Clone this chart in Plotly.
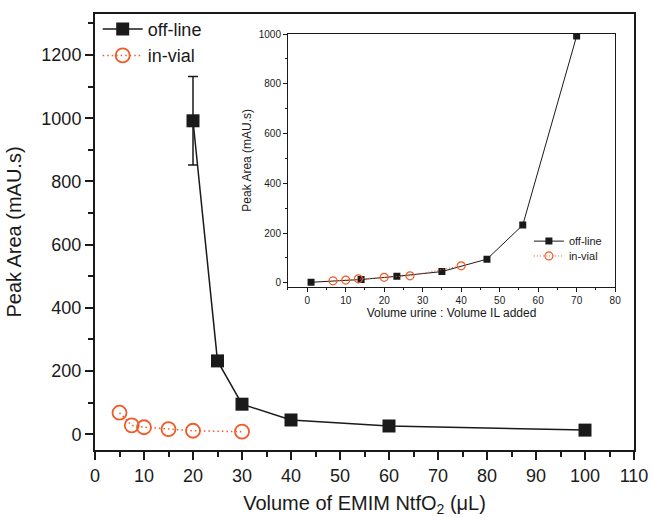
import plotly.graph_objects as go

# main chart data
off_x = [20, 25, 30, 40, 60, 100]
off_y = [992, 232, 95, 45, 26, 13]
off_err = [140, 15, 10, 6, 5, 15]
vial_x = [5, 7.5, 10, 15, 20, 30]
vial_y = [68, 28, 22, 16, 11, 8]

# inset data
in_off_x = [1, 14, 23.3, 35, 46.7, 56, 70]
in_off_y = [2, 13, 26, 45, 95, 232, 992]
in_vial_x = [6.7, 10, 13.3, 20, 26.7, 40]
in_vial_y = [8, 11, 16, 22, 28, 68]

BLACK = "#1a1a1a"
ORANGE = "#f05a28"
FONT = "Liberation Sans, Arial, sans-serif"
DOT = "1.5px,3px"

fig = go.Figure()

fig.add_trace(go.Scatter(
    x=off_x, y=off_y, name="off-line", mode="lines+markers",
    line=dict(color=BLACK, width=1.5),
    marker=dict(symbol="square", size=13, color=BLACK),
    error_y=dict(type="data", array=off_err, color=BLACK, thickness=1.5, width=5),
    legend="legend"))
fig.add_trace(go.Scatter(
    x=vial_x, y=vial_y, name="in-vial", mode="lines+markers",
    line=dict(color=ORANGE, width=1.5, dash=DOT),
    marker=dict(symbol="circle-open", size=14, color=ORANGE, line=dict(width=1.8)),
    legend="legend"))

fig.add_trace(go.Scatter(
    x=in_off_x, y=in_off_y, name="off-line", mode="lines+markers",
    xaxis="x2", yaxis="y2",
    line=dict(color=BLACK, width=1),
    marker=dict(symbol="square", size=7, color=BLACK),
    legend="legend2"))
fig.add_trace(go.Scatter(
    x=in_vial_x, y=in_vial_y, name="in-vial", mode="lines+markers",
    xaxis="x2", yaxis="y2",
    line=dict(color=ORANGE, width=1, dash="1px,2px"),
    marker=dict(symbol="circle-open", size=8, color=ORANGE, line=dict(width=1.2)),
    legend="legend3"))

ax_common = dict(showgrid=False, zeroline=False, showline=True, linecolor=BLACK,
                 ticks="outside", tickcolor=BLACK, automargin=False)

small_legend = dict(xanchor="left", yanchor="middle", bgcolor="rgba(0,0,0,0)",
                    font=dict(size=11), itemwidth=30)

fig.update_layout(
    width=653, height=517,
    margin=dict(l=95, r=19, t=13, b=67),
    paper_bgcolor="white", plot_bgcolor="white",
    font=dict(family=FONT, color=BLACK),
    xaxis=dict(**ax_common, range=[0, 110], dtick=10, tick0=0, linewidth=2,
               ticklen=8, tickwidth=1.5, mirror=True,
               minor=dict(ticks="outside", dtick=5, ticklen=5, tickcolor=BLACK),
               tickfont=dict(size=18),
               title=dict(text="Volume of EMIM NtfO<sub>2</sub> (μL)", font=dict(size=20), standoff=12)),
    yaxis=dict(**ax_common, range=[-50, 1330], dtick=200, tick0=0, linewidth=2,
               ticklen=8, tickwidth=1.5, mirror=True,
               minor=dict(ticks="outside", dtick=100, ticklen=5, tickcolor=BLACK),
               tickfont=dict(size=18),
               title=dict(text="Peak Area (mAU.s)", font=dict(size=20), standoff=14)),
    xaxis2=dict(**ax_common, domain=[0.358, 0.965], anchor="y2", range=[-5, 80],
                dtick=10, tick0=0, linewidth=1, ticklen=4, mirror=True,
                minor=dict(ticks="outside", dtick=5, ticklen=2, tickcolor=BLACK),
                tickfont=dict(size=10),
                title=dict(text="Volume urine : Volume IL added", font=dict(size=12), standoff=4)),
    yaxis2=dict(**ax_common, domain=[0.375, 0.954], anchor="x2", range=[-15, 1000],
                dtick=200, tick0=0, linewidth=1, ticklen=4, mirror=True,
                minor=dict(ticks="outside", dtick=100, ticklen=2, tickcolor=BLACK),
                tickfont=dict(size=10),
                title=dict(text="Peak Area (mAU.s)", font=dict(size=12), standoff=4)),
    legend=dict(x=0.005, y=1.005, xanchor="left", yanchor="top",
                bgcolor="rgba(0,0,0,0)", font=dict(size=18), itemwidth=40,
                tracegroupgap=0),
    legend2=dict(x=0.805, y=0.478, **small_legend),
    legend3=dict(x=0.805, y=0.444, **small_legend),
    showlegend=True,
)

fig.write_html("out.html")
